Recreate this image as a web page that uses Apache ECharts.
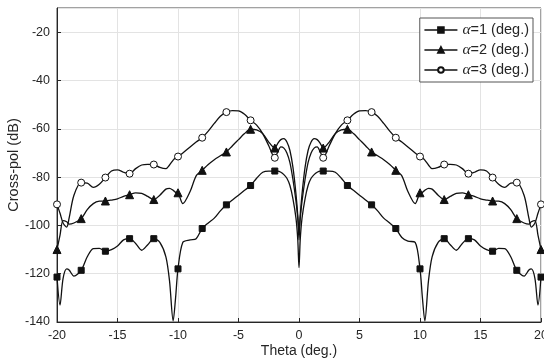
<!DOCTYPE html>
<html>
<head>
<meta charset="utf-8">
<script src="https://cdn.jsdelivr.net/npm/echarts@6/dist/echarts.min.js"></script>
<style>
html,body{margin:0;padding:0;background:#fff;}
#chart{width:544px;height:363px;}
</style>
</head>
<body>
<div id="chart"></div>
<script>
// Sample angles (deg.)
var theta = [
  -20, -19.75, -19.5, -19.2, -19, -18.6, -18, -17.5, -17, -16.5, -16, -15.5, -15, -14.5, -14, -13.5, -13, -12.5, -12, -11.5, -11, -10.7, -10.4, -10.2, -10,
  -9.6, -9, -8.5, -8, -7.5, -7, -6.5, -6, -5.5, -5, -4.5, -4, -3.5, -3, -2.5, -2, -1.75, -1.5, -1.25, -1, -0.75, -0.5, -0.25, -0.1,
  0,
  0.1, 0.25, 0.5, 0.75, 1, 1.25, 1.5, 1.75, 2, 2.5, 3, 3.5, 4, 4.5, 5, 5.5, 6, 6.5, 7, 7.5, 8, 8.5, 9, 9.6,
  10, 10.2, 10.4, 10.7, 11, 11.5, 12, 12.5, 13, 13.5, 14, 14.5, 15, 15.5, 16, 16.5, 17, 17.5, 18, 18.6, 19, 19.2, 19.5, 19.75, 20
];
// alpha = 1 deg.
var alpha1 = [
  -121.4, -133, -122, -118, -118.5, -121, -118.6, -113, -109.6, -109.5, -110.7, -110, -108.5, -106, -105.5, -107.5, -110.3, -108, -105.5, -107, -113, -123, -139.5, -130, -118,
  -107, -106, -105.5, -101.3, -99, -97, -94, -91.5, -89.5, -87.5, -85.5, -83.5, -80.5, -78, -77.5, -77.5, -77.5, -78, -79, -80.5, -83.5, -89, -97, -106,
  -117.5,
  -106, -97, -89, -83.5, -80.5, -79, -78, -77.5, -77.5, -77.5, -78, -80.5, -83.5, -85.5, -87.5, -89.5, -91.5, -94, -97, -99, -101.3, -105, -106.5, -107,
  -118, -130, -139.5, -123, -113, -107, -105.5, -108, -110.3, -107.5, -105.5, -106, -108.5, -110, -110.7, -109.5, -109.6, -113, -118.6, -121, -118.5, -118, -122, -133, -121.4
];
// alpha = 2 deg.
var alpha2 = [
  -110, -104, -98, -98.5, -99.5, -99, -97.2, -93.5, -91, -90, -89.9, -89.5, -89, -88, -87.3, -86.5, -86.7, -88, -89.3, -87.5, -85, -84.7, -85.5, -86.3, -86.5,
  -91, -86, -79.5, -77.2, -74.8, -72.8, -71.2, -69.6, -67, -64.5, -62, -60.2, -60.5, -62, -65.5, -68, -66, -64.5, -64.1, -65.5, -69, -76, -87, -96,
  -106,
  -96, -87, -76, -69, -65.5, -64.1, -64.5, -66, -68, -65.5, -62, -60.5, -60.2, -62, -64.5, -67, -69.6, -71.2, -72.8, -74.8, -77.2, -79.5, -86, -91,
  -86.5, -86.3, -85.5, -84.7, -85, -87.5, -89.3, -88, -86.7, -86.5, -87.3, -88, -89, -89.5, -89.9, -90, -91, -93.5, -97.2, -99, -99.5, -98.5, -98, -104, -110
];
// alpha = 3 deg.
var alpha3 = [
  -91.3, -95, -99, -100.7, -97, -87.5, -82.3, -82.5, -84.3, -83, -80.2, -77.5, -77, -78, -78.6, -76.5, -75, -74.7, -74.8, -76, -76.5, -75, -73, -72, -71.5,
  -70, -67.5, -65.5, -63.7, -61, -57.8, -54.8, -53.1, -52.5, -52.6, -54, -56.5, -58.5, -62, -67, -72, -69.5, -67.5, -68, -70, -74, -81, -90, -97,
  -101.5,
  -97, -90, -81, -74, -70, -68, -67.5, -69.5, -72, -67, -62, -58.5, -56.5, -54, -52.6, -52.5, -53.1, -54.8, -57.8, -61, -63.7, -65.5, -67.5, -70,
  -71.5, -72, -73, -75, -76.5, -76, -74.8, -74.7, -75, -76.5, -78.6, -78, -77, -77.5, -80.2, -83, -84.3, -82.5, -82.3, -87.5, -97, -100.7, -99, -95, -91.3
];
// Angles carrying a marker
var markerTheta = [-20, -18, -16, -14, -12, -10, -8, -6, -4, -2, 2, 4, 6, 8, 10, 12, 14, 16, 18, 20];
var seriesNames = ['α=1 (deg.)', 'α=2 (deg.)', 'α=3 (deg.)'];
var xTicks = [-20, -15, -10, -5, 0, 5, 10, 15, 20];
var yTicks = [-140, -120, -100, -80, -60, -40, -20];

function pairs(vals) {
  return theta.map(function (t, i) { return [t, vals[i]]; });
}
function sizeFn(size) {
  return function (v) {
    return markerTheta.indexOf(v[0]) >= 0 ? size : 0;
  };
}
var textColor = '#262626';
var fontSans = 'Liberation Sans, Arial, sans-serif';
var chart = echarts.init(document.getElementById('chart'), null, { renderer: 'canvas' });
function mkSeries(name, vals, symbol, size, fill) {
  return {
    name: name,
    type: 'line',
    data: pairs(vals),
    smooth: 0.3,
    symbol: symbol,
    symbolSize: sizeFn(size),
    showSymbol: true,
    lineStyle: { color: '#111', width: 1.3 },
    itemStyle: { color: fill, borderColor: '#111', borderWidth: 1 },
    emphasis: { disabled: true },
    z: 3
  };
}
chart.setOption({
  animation: false,
  backgroundColor: '#fff',
  grid: {
    left: 57, right: 3, top: 8, bottom: 41,
    containLabel: false, outerBoundsMode: 'none',
    show: true, borderColor: '#444', borderWidth: 1, backgroundColor: 'transparent'
  },
  legend: {
    orient: 'vertical',
    right: 11,
    top: 18,
    data: seriesNames,
    itemWidth: 33,
    itemHeight: 7,
    itemGap: 4,
    padding: [4, 4, 4, 4],
    backgroundColor: '#fff',
    borderColor: '#555',
    borderWidth: 1,
    borderRadius: 0,
    lineStyle: { width: 1.3, color: '#111' },
    formatter: function (n) {
      return '{a|α}' + n.slice(1);
    },
    textStyle: {
      color: textColor,
      fontFamily: fontSans,
      fontSize: 14.5,
      lineHeight: 15,
      rich: {
        a: { fontFamily: 'Liberation Serif, serif', fontStyle: 'italic', fontSize: 15.5, lineHeight: 15, color: textColor }
      }
    }
  },
  xAxis: {
    type: 'value',
    min: -20, max: 20, interval: 5,
    name: 'Theta (deg.)',
    nameLocation: 'middle',
    nameGap: 22,
    nameMoveOverlap: false,
    nameTextStyle: { color: textColor, fontSize: 14, fontFamily: fontSans },
    axisLine: { show: true, onZero: false, lineStyle: { color: '#262626', width: 1 } },
    axisTick: { show: true, inside: true, length: 4, lineStyle: { color: '#262626' } },
    axisLabel: {
      color: textColor, fontSize: 12.5, margin: 7, fontFamily: fontSans,
      formatter: function (v) { return xTicks.indexOf(v) >= 0 ? String(v) : ''; }
    },
    splitLine: { show: true, lineStyle: { color: '#e3e3e3', width: 1 } }
  },
  yAxis: {
    type: 'value',
    min: -140, max: -10, interval: 20,
    name: 'Cross-pol (dB)',
    nameLocation: 'middle',
    nameGap: 36,
    nameMoveOverlap: false,
    nameTextStyle: { color: textColor, fontSize: 14.5, fontFamily: fontSans },
    axisLine: { show: true, onZero: false, lineStyle: { color: '#262626', width: 1 } },
    axisTick: { show: true, inside: true, length: 4, lineStyle: { color: '#262626' } },
    axisLabel: {
      color: textColor, fontSize: 12.5, margin: 7, showMaxLabel: false, fontFamily: fontSans,
      formatter: function (v) { return yTicks.indexOf(v) >= 0 ? String(v) : ''; }
    },
    splitLine: { show: true, lineStyle: { color: '#e3e3e3', width: 1 } }
  },
  series: [
    mkSeries(seriesNames[0], alpha1, 'rect', 6, '#111'),
    mkSeries(seriesNames[1], alpha2, 'triangle', 8, '#111'),
    mkSeries(seriesNames[2], alpha3, 'circle', 7, '#fff')
  ]
});
</script>
</body>
</html>
